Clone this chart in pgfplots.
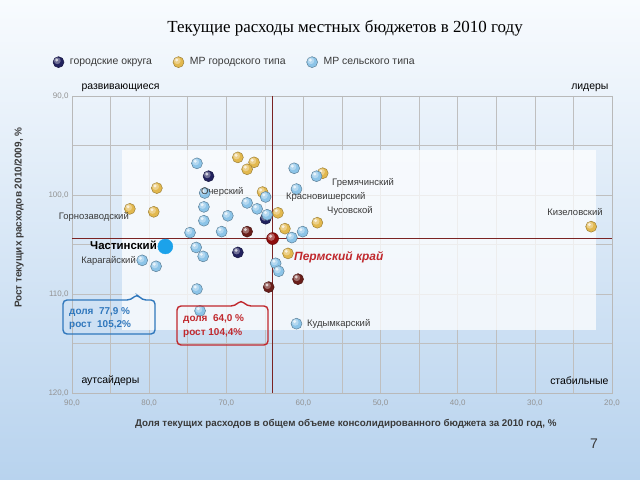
\documentclass[border=0pt]{standalone}
\usepackage{fontspec}
\setmainfont{Liberation Sans}
\newfontfamily\titlefont{Liberation Serif}
\usepackage{pgfplots}
\usepackage{pgfplotstable}
\pgfplotsset{compat=1.18}

\definecolor{navy}{HTML}{22225E}
\definecolor{goldb}{HTML}{E2B84E}
\definecolor{lblue}{HTML}{8CC4E8}
\definecolor{maroonb}{HTML}{6A1E1A}
\definecolor{permred}{HTML}{8E0C0C}
\definecolor{chast}{HTML}{1CA2EA}
\definecolor{crossred}{HTML}{7B2323}
\definecolor{calblue}{HTML}{2F77BC}
\definecolor{calred}{HTML}{C0282D}
\definecolor{txt}{HTML}{3A3A3A}

% glossy bead: filled disc with a soft highlight
\pgfdeclareplotmark{glossy}{%
  \pgfpathcircle{\pgfpointorigin}{\pgfplotmarksize}%
  \pgfusepathqfillstroke
  \pgfscope
  \pgfsetfillcolor{white}\pgfsetfillopacity{0.35}%
  \pgfpathcircle{\pgfpoint{-0.22\pgfplotmarksize}{0.25\pgfplotmarksize}}{0.62\pgfplotmarksize}%
  \pgfusepathqfill
  \pgfsetfillopacity{0.7}%
  \pgfpathcircle{\pgfpoint{-0.32\pgfplotmarksize}{0.38\pgfplotmarksize}}{0.3\pgfplotmarksize}%
  \pgfusepathqfill
  \endpgfscope
}

% городские округа
\pgfplotstableread{
x y
72.3 98.1
68.5 105.8
64.9 102.4
}\okruga

% МР городского типа
\pgfplotstableread{
x y
68.5 96.2
66.4 96.7
67.3 97.4
79.0 99.3
82.5 101.4
79.4 101.7
65.3 99.7
57.5 97.8
63.3 101.8
58.2 102.8
62.4 103.4
62.0 105.9
22.7 103.2
}\gorod

% МР сельского типа
\pgfplotstableread{
x y
73.8 96.8
61.2 97.3
58.3 98.1
60.9 99.4
72.8 99.8
64.9 100.2
67.3 100.8
66.0 101.4
72.9 101.2
69.8 102.1
64.7 102.0
72.9 102.6
70.6 103.7
74.7 103.8
60.1 103.7
61.5 104.3
73.9 105.3
73.0 106.2
80.9 106.6
79.1 107.2
63.6 106.9
63.2 107.7
73.8 109.5
73.4 111.7
60.9 113.0
}\selo

% прочие выделенные точки
\pgfplotstableread{
x y
67.3 103.7
60.7 108.5
64.5 109.3
}\dark

\begin{document}
\begin{tikzpicture}
\begin{scope}[x=1bp,y=1bp]
\useasboundingbox (0,0) rectangle (640,480);
\shade[top color={rgb,255:red,248;green,251;blue,254}, bottom color={rgb,255:red,184;green,211;blue,238}] (0,0) rectangle (640,480);
\node[font=\titlefont\fontsize{17}{20}\selectfont, text=black] at (345,452) {Текущие расходы местных бюджетов в 2010 году};
\end{scope}

\begin{axis}[
  at={(72bp,87bp)}, anchor=south west,
  scale only axis, width=540bp, height=297bp,
  xmin=20, xmax=90, ymin=90, ymax=120,
  x dir=reverse, y dir=reverse,
  xtick={20,30,...,90}, ytick={90,100,110,120},
  minor x tick num=1, minor y tick num=1,
  grid=both,
  major grid style={draw=gray!50, line width=0.7pt},
  minor grid style={draw=gray!50, line width=0.7pt},
  tick style={draw=none},
  axis line style={draw=gray!55, line width=0.7pt},
  ticklabel style={font=\fontsize{8}{9}\selectfont, text=gray!85,
    /pgf/number format/fixed, /pgf/number format/fixed zerofill,
    /pgf/number format/precision=1, /pgf/number format/use comma,
    /pgf/number format/assume math mode=true},
  xticklabel style={yshift=-3bp},
  xlabel={Доля текущих расходов в общем объеме консолидированного бюджета за 2010 год, \%},
  xlabel style={font=\bfseries\fontsize{9.8}{11}\selectfont, text=txt, at={(axis description cs:0.507,-0.104)}, anchor=center},
  ylabel={Рост текущих расходов 2010/2009, \%},
  ylabel style={font=\bfseries\fontsize{10}{11}\selectfont, text=txt, at={(axis description cs:-0.098,0.59)}, anchor=center},
  legend style={at={(axis description cs:-0.041,1.114)}, anchor=west, draw=none, fill=none,
    legend columns=3, font=\fontsize{10.5}{12}\selectfont, text=txt,
    /tikz/every odd column/.append style={column sep=4bp},
    /tikz/every even column/.append style={column sep=19bp}},
  legend image code/.code={\draw[#1] plot coordinates {(0.3cm,0cm)};},
]
\fill[white, opacity=0.72] (axis cs:83.5,95.45) rectangle (axis cs:22.1,113.6);
\addplot[crossred, line width=1.4pt, forget plot] coordinates {(64,90) (64,120)};
\addplot[crossred, line width=1.4pt, forget plot] coordinates {(90,104.4) (20,104.4)};
\addplot[only marks, mark=glossy, mark size=5.5pt, mark options={fill=navy, draw=navy!70!black, line width=0.5pt}] table {\okruga};
\addlegendentry{городские округа}
\addplot[only marks, mark=glossy, mark size=5.5pt, mark options={fill=goldb, draw=goldb!70!black, line width=0.5pt}] table {\gorod};
\addlegendentry{МР городского типа}
\addplot[only marks, mark=glossy, mark size=5.5pt, mark options={fill=lblue, draw=lblue!65!black, line width=0.5pt}] table {\selo};
\addlegendentry{МР сельского типа}
\addplot[only marks, mark=glossy, mark size=5.5pt, mark options={fill=maroonb, draw=maroonb!70!black, line width=0.5pt}, forget plot] table {\dark};
\addplot[only marks, mark=glossy, mark size=6pt, mark options={fill=permred, draw=permred!70!black, line width=0.5pt}, forget plot] coordinates {(64.0,104.4)};
\addplot[only marks, mark=*, mark options={fill=chast, draw=chast}, mark size=7.5pt, forget plot] coordinates {(77.9,105.2)};
\end{axis}

\begin{scope}[x=1bp,y=1bp, font=\fontsize{9.5}{11}\selectfont]
% quadrants
\node[anchor=west, text=black, font=\fontsize{10.5}{12}\selectfont] at (78,392) {развивающиеся};
\node[anchor=east, text=black, font=\fontsize{10.5}{12}\selectfont] at (612,392) {лидеры};
\node[anchor=west, text=black, font=\fontsize{10.5}{12}\selectfont] at (78,99) {аутсайдеры};
\node[anchor=east, text=black, font=\fontsize{10.5}{12}\selectfont] at (612,99) {стабильные};
% point labels
\node[anchor=west, inner sep=0, text=txt] at (201,288) {Очерский};
\node[anchor=west, inner sep=0, text=txt] at (286,283) {Красновишерский};
\node[anchor=west, inner sep=0, text=txt] at (332,297) {Гремячинский};
\node[anchor=west, inner sep=0, text=txt] at (327,269) {Чусовской};
\node[anchor=east, inner sep=0, text=txt] at (129,263) {Горнозаводский};
\node[anchor=east, inner sep=0, text=txt] at (136,219) {Карагайский};
\node[anchor=center, inner sep=0, text=txt] at (575,268) {Кизеловский};
\node[anchor=west, inner sep=0, text=txt] at (307,156) {Кудымкарский};
\node[anchor=east, inner sep=0, text=black, font=\bfseries\fontsize{11.5}{13}\selectfont] at (157,235) {Частинский};
\node[anchor=west, inner sep=0, text=calred, font=\bfseries\itshape\fontsize{12}{14}\selectfont] at (294,223) {Пермский край};
% callouts
\draw[calblue, line width=1.4bp, rounded corners=4bp] (131,180) -- (63,180) -- (63,146) -- (155,146) -- (155,180) -- (142,180) -- (137,186) -- cycle;
\node[anchor=west, inner sep=0, text=calblue, font=\bfseries\fontsize{10}{11}\selectfont] at (69,168) {доля~~77,9~\%};
\node[anchor=west, inner sep=0, text=calblue, font=\bfseries\fontsize{10}{11}\selectfont] at (69,155) {рост~~105,2\%};
\draw[calred, line width=1.4bp, rounded corners=4bp] (235,174) -- (177,174) -- (177,135) -- (268,135) -- (268,174) -- (247,174) -- (241,180) -- cycle;
\node[anchor=west, inner sep=0, text=calred, font=\bfseries\fontsize{10}{11}\selectfont] at (183,161) {доля~~64,0~\%};
\node[anchor=west, inner sep=0, text=calred, font=\bfseries\fontsize{10}{11}\selectfont] at (183,147) {рост 104,4\%};
\node[text=txt, font=\fontsize{14}{16}\selectfont] at (594,36) {7};
\end{scope}
\end{tikzpicture}
\end{document}
